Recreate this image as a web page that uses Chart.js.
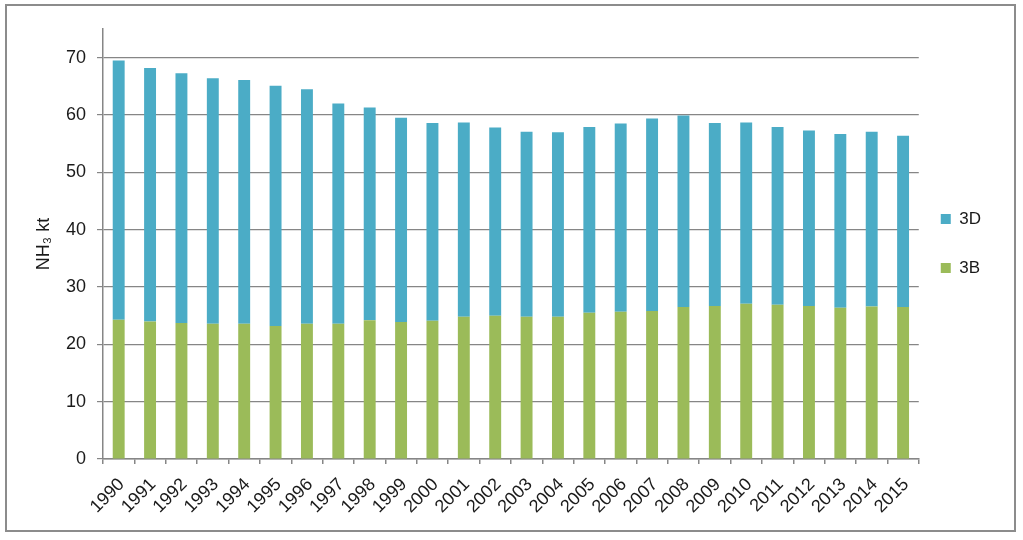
<!DOCTYPE html>
<html>
<head>
<meta charset="utf-8">
<script src="https://cdn.jsdelivr.net/npm/chart.js@4/dist/chart.umd.min.js"></script>
<style>
  html, body { margin: 0; padding: 0; background: #fff; }
  #chart { display: block; }
</style>
</head>
<body>
<canvas id="chart" width="1023" height="540"></canvas>
<script>
// years on the x axis
const years = ["1990","1991","1992","1993","1994","1995","1996","1997","1998","1999",
  "2000","2001","2002","2003","2004","2005","2006","2007","2008","2009",
  "2010","2011","2012","2013","2014","2015"];

// 3B (manure management), kt NH3
const values3B = [24.3, 24.0, 23.7, 23.6, 23.6, 23.2, 23.6, 23.6, 24.2, 23.9,
  24.1, 24.8, 25.0, 24.8, 24.8, 25.5, 25.7, 25.8, 26.5, 26.7,
  27.1, 26.9, 26.7, 26.4, 26.6, 26.5];

// 3D (agricultural soils), kt NH3
const values3D = [45.2, 44.2, 43.6, 42.8, 42.5, 41.9, 40.9, 38.4, 37.1, 35.6,
  34.5, 33.9, 32.8, 32.3, 32.2, 32.4, 32.8, 33.6, 33.4, 31.9,
  31.6, 31.0, 30.6, 30.3, 30.5, 29.9];

const yTicks = [0, 10, 20, 30, 40, 50, 60, 70];

const gridGrey = "#868686";
const font = "'Liberation Sans', Arial, sans-serif";

// white background + grey frame round the whole picture
const framePlugin = {
  id: "frame",
  beforeDraw(chart) {
    const ctx = chart.ctx;
    ctx.save();
    ctx.fillStyle = "#fff";
    ctx.fillRect(0, 0, chart.width, chart.height);
    ctx.strokeStyle = "#8c8c8c";
    ctx.lineWidth = 2;
    ctx.strokeRect(6, 5, 1009, 526);
    ctx.restore();
  }
};

// legend keeps its big row gap but sits closer to the plot, centred on it
const legendNudge = {
  id: "legendNudge",
  afterLayout(chart) {
    const lg = chart.legend;
    lg.left -= 10;
    lg.right -= 10;
    lg.top -= 41;
    lg.bottom -= 41;
  }
};

new Chart(document.getElementById("chart"), {
  type: "bar",
  data: {
    labels: years,
    datasets: [
      {
        label: "3B",
        data: values3B,
        backgroundColor: "#9bbb59",
        barPercentage: 0.38,
        categoryPercentage: 1
      },
      {
        label: "3D",
        data: values3D,
        backgroundColor: "#4bacc6",
        barPercentage: 0.38,
        categoryPercentage: 1
      }
    ]
  },
  options: {
    responsive: false,
    devicePixelRatio: 1,
    animation: false,
    layout: { padding: { top: 29, right: 22, bottom: 0, left: 0 } },
    plugins: {
      legend: {
        position: "right",
        reverse: true,
        labels: {
          boxWidth: 10,
          boxHeight: 10,
          padding: 32,
          color: "#1a1a1a",
          font: { family: font, size: 17 }
        }
      },
      tooltip: { enabled: false }
    },
    scales: {
      x: {
        stacked: true,
        border: { color: gridGrey, width: 1.5 },
        grid: {
          offset: true,
          drawOnChartArea: false,
          drawTicks: true,
          tickLength: 5,
          color: gridGrey,
          lineWidth: 1.5
        },
        ticks: {
          minRotation: 45,
          maxRotation: 45,
          autoSkip: false,
          padding: 10,
          labelOffset: 3,
          color: "#1a1a1a",
          font: { family: font, size: 18 }
        },
        afterFit(scale) { scale.height = 81; }
      },
      y: {
        stacked: true,
        min: 0,
        max: 75,
        border: { color: gridGrey, width: 1.5 },
        grid: {
          color: gridGrey,
          lineWidth: 1.2,
          drawTicks: true,
          tickLength: 6
        },
        ticks: {
          padding: 11,
          color: "#1a1a1a",
          font: { family: font, size: 18 }
        },
        afterBuildTicks(scale) {
          scale.ticks = yTicks.map(v => ({ value: v }));
        },
        title: {
          display: true,
          text: "NH\u2083 kt",
          color: "#1a1a1a",
          padding: { top: 33, bottom: 0 },
          font: { family: font, size: 18 }
        },
        afterFit(scale) { scale.width = 103; }
      }
    }
  },
  plugins: [framePlugin, legendNudge]
});
</script>
</body>
</html>
